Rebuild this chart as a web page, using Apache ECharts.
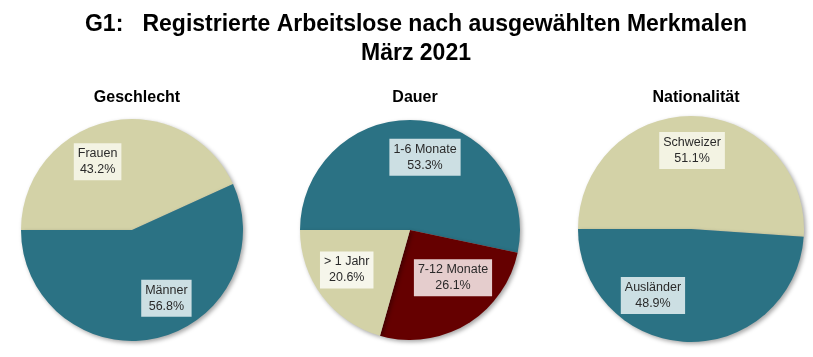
<!DOCTYPE html>
<html><head><meta charset="utf-8">
<script src="https://cdn.jsdelivr.net/npm/echarts@6/dist/echarts.min.js"></script>
<style>html,body{margin:0;padding:0;background:#fff}#c{width:813px;height:357px}</style>
</head><body><div id="c"></div>
<script>
const mainTitle = "G1:   Registrierte Arbeitslose nach ausgewählten Merkmalen\nMärz 2021";
const geschlechtCats = ["Frauen", "Männer"];
const geschlechtVals = [43.2, 56.8];
const dauerCats = ["1-6 Monate", "7-12 Monate", "> 1 Jahr"];
const dauerVals = [53.3, 26.1, 20.6];
const natCats = ["Schweizer", "Ausländer"];
const natVals = [51.1, 48.9];

const TEAL = "#2b7284", BEIGE = "#d3d2a7", RED = "#650000";
const pies = [
  {title: "Geschlecht", cats: geschlechtCats, vals: geschlechtVals, colors: [BEIGE, TEAL], center: [132, 230], r: 111,
   off: [[-22, -11], [22, 11]], bg: ["rgba(245,245,232,0.92)", "rgba(218,232,236,0.92)"]},
  {title: "Dauer", cats: dauerCats, vals: dauerVals, colors: [TEAL, RED, BEIGE], center: [410, 230], r: 110,
   off: [[9, -15], [13, -2], [-17, 5]], bg: ["rgba(218,232,236,0.92)", "rgba(240,222,222,0.92)", "rgba(248,248,238,0.95)"]},
  {title: "Nationalität", cats: natCats, vals: natVals, colors: [BEIGE, TEAL], center: [691, 229], r: 113,
   off: [[-1, -19], [-36, 7]], bg: ["rgba(245,245,232,0.92)", "rgba(218,232,236,0.92)"]}
];

const chart = echarts.init(document.getElementById('c'), null, {renderer: 'canvas'});
const titles = [{
  text: mainTitle, left: 411, top: 5, textAlign: 'center',
  textStyle: {fontFamily: 'Liberation Sans', fontWeight: 'bold', fontSize: 23, color: '#000', lineHeight: 29, align: 'center'}
}];
pies.forEach(p => titles.push({
  text: p.title, left: p.center[0], top: 85, textAlign: 'center',
  textStyle: {fontFamily: 'Liberation Sans', fontWeight: 'bold', fontSize: 16, color: '#000'}
}));
const series = pies.map(p => ({
  type: 'pie', center: p.center, radius: p.r, startAngle: 180, clockwise: true,
  silent: true, animation: false,
  data: p.cats.map((c, i) => ({name: c, value: p.vals[i], itemStyle: {color: p.colors[i]},
    label: {backgroundColor: p.bg[i]}})),
  itemStyle: {borderWidth: 0, shadowColor: 'rgba(0,0,0,0.35)', shadowBlur: 4, shadowOffsetX: 2, shadowOffsetY: 2},
  label: {show: true, position: 'inside', formatter: p2 => p2.name + '\n' + p2.value.toFixed(1) + '%',
    fontFamily: 'Liberation Sans', fontSize: 12.5, color: '#2a2a2a', lineHeight: 16, padding: [3, 4, 2, 4], align: 'center'},
  labelLine: {show: false},
  labelLayout: params => ({dx: p.off[params.dataIndex][0], dy: p.off[params.dataIndex][1]})
}));
chart.setOption({title: titles, series});
</script></body></html>
